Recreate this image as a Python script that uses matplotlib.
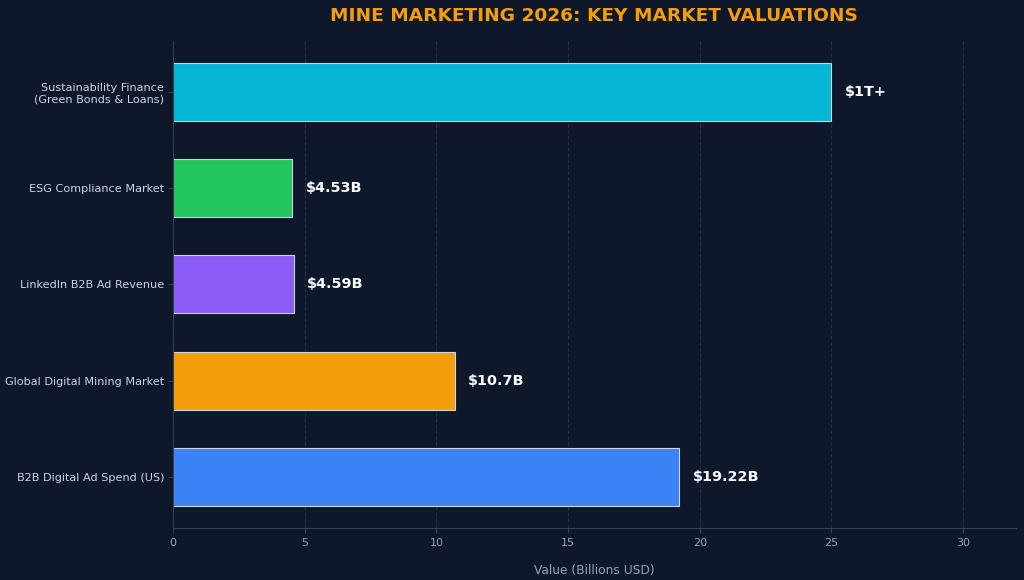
import matplotlib
matplotlib.use('Agg')
import matplotlib.pyplot as plt

# 数据（从下到上）
categories = ['B2B Digital Ad Spend (US)', 'Global Digital Mining Market',
              'LinkedIn B2B Ad Revenue', 'ESG Compliance Market',
              'Sustainability Finance\n(Green Bonds & Loans)']
values = [19.22, 10.7, 4.59, 4.53, 25]  # 可持续金融按25封顶显示
value_labels = ['$19.22B', '$10.7B', '$4.59B', '$4.53B', '$1T+']
colors = ['#3b82f6', '#f59e0b', '#8b5cf6', '#22c55e', '#06b6d4']

bg = '#0f172a'
fig = plt.figure(figsize=(10.24, 5.8), dpi=100, facecolor=bg)
ax = fig.add_axes([0.169, 0.0897, 0.823, 0.84])
ax.set_facecolor(bg)

bars = ax.barh(categories, values, height=0.6, color=colors,
               edgecolor='#cbd5e1', linewidth=0.8, zorder=2)
for b, lab in zip(bars, value_labels):
    ax.text(b.get_width() + 0.5, b.get_y() + b.get_height() / 2, lab,
            va='center', ha='left', color='#f8fafc', fontsize=10.4, fontweight='bold')

ax.set_xlim(0, 32)
ax.set_title('MINE MARKETING 2026: KEY MARKET VALUATIONS', color='#f59e0b',
             fontsize=13.3, fontweight='bold', pad=14)
ax.set_xlabel('Value (Billions USD)', color='#94a3b8', fontsize=8.8, labelpad=11)
ax.grid(axis='x', linestyle='--', color='#334155', alpha=0.6, linewidth=0.8, zorder=0)
ax.set_axisbelow(True)

for s in ['top', 'right']:
    ax.spines[s].set_visible(False)
for s in ['left', 'bottom']:
    ax.spines[s].set_color('#334155')
ax.tick_params(axis='y', colors='#334155', labelcolor='#cbd5e1', labelsize=8.1, pad=3)
ax.tick_params(axis='x', colors='#334155', labelcolor='#94a3b8', labelsize=8, pad=4)

plt.savefig('out.png', facecolor=bg)
